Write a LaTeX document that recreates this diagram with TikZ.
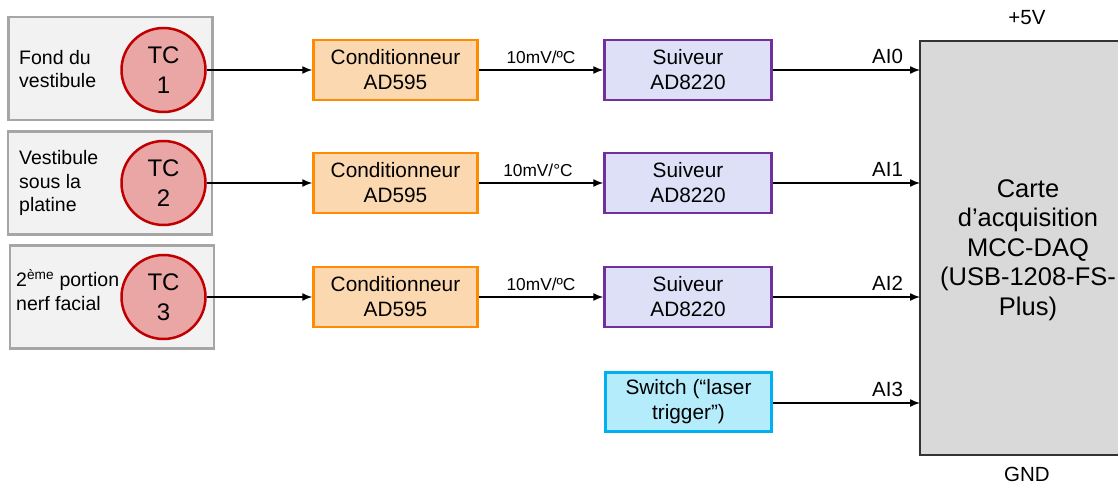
\documentclass[tikz,border=0pt]{standalone}
\usepackage{fontspec}
\setmainfont{Liberation Sans}
\usetikzlibrary{arrows.meta}
\definecolor{grayfill}{HTML}{F2F2F2}
\definecolor{grayedge}{HTML}{A6A6A6}
\definecolor{tcfill}{HTML}{EAA5A5}
\definecolor{tcedge}{HTML}{C00000}
\definecolor{orfill}{HTML}{FCD8B0}
\definecolor{oredge}{HTML}{FF8C00}
\definecolor{pufill}{HTML}{DDE0F6}
\definecolor{puedge}{HTML}{7030A0}
\definecolor{cyfill}{HTML}{B4ECFB}
\definecolor{cyedge}{HTML}{00B0F0}
\definecolor{daqfill}{HTML}{D9D9D9}
\definecolor{daqedge}{HTML}{333333}
\begin{document}
\begin{tikzpicture}[x=1pt,y=-1pt,
  lbox/.style={draw=grayedge,fill=grayfill,line width=2.5pt,minimum width=204pt,minimum height=103pt,inner sep=0pt},
  ltext/.style={align=left,anchor=west,font=\fontsize{19.5}{23.5}\selectfont,inner sep=0pt},
  tc/.style={circle,draw=tcedge,fill=tcfill,line width=2.5pt,minimum size=84pt,inner sep=0pt,align=center,font=\fontsize{24}{30}\selectfont},
  cond/.style={draw=oredge,fill=orfill,line width=2.5pt,minimum width=164pt,minimum height=60pt,inner sep=0pt,align=center,font=\fontsize{20.8}{25}\selectfont},
  suiv/.style={draw=puedge,fill=pufill,line width=2.5pt,minimum width=167pt,minimum height=60pt,inner sep=0pt,align=center,font=\fontsize{20.8}{25}\selectfont},
  sw/.style={draw=cyedge,fill=cyfill,line width=2.5pt,minimum width=166pt,minimum height=59pt,inner sep=0pt,align=center,font=\fontsize{20.8}{25}\selectfont},
  arr/.style={line width=1.4pt,-{Latex[length=10pt,width=8pt]}},
  small/.style={font=\fontsize{17.3}{20}\selectfont,inner sep=0pt},
  ai/.style={font=\fontsize{20.5}{22}\selectfont,inner sep=0pt}
]
\useasboundingbox (0,0) rectangle (1118,486);

% left boxes
\node[lbox] (b1) at (110.5,68.5) {};
\node[lbox] (b2) at (110,183) {};
\node[lbox] (b3) at (112,297) {};
\node[ltext] (t1) at (19,69) {Fond du\\vestibule};
\node[ltext] (t2) at (19,183) {Vestibule\\sous la\\platine};
\node[ltext] (t3) at (16,290) {2\textsuperscript{ème} portion\\nerf facial};

\node[tc] (tc1) at (163.5,70) {TC\\1};
\node[tc] (tc2) at (163.5,183) {TC\\2};
\node[tc] (tc3) at (163.5,297) {TC\\3};

% conditionneurs
\node[cond] (c1) at (395.5,70) {Conditionneur\\AD595};
\node[cond] (c2) at (395.5,183) {Conditionneur\\AD595};
\node[cond] (c3) at (395.5,297) {Conditionneur\\AD595};

% suiveurs
\node[suiv] (s1) at (688,70) {Suiveur\\AD8220};
\node[suiv] (s2) at (688,183) {Suiveur\\AD8220};
\node[suiv] (s3) at (688,297) {Suiveur\\AD8220};

\node[sw] (sw) at (688.5,402) {Switch (“laser\\trigger”)};

% DAQ
\node[draw=daqedge,fill=daqfill,line width=2.5pt,minimum width=210pt,minimum height=414pt,inner sep=0pt] (daq) at (1025,248) {};
\node[align=center,font=\fontsize{25.5}{29.5}\selectfont,inner sep=0pt] (daqt) at (1028,250) {Carte\\d’acquisition\\MCC-DAQ\\(USB-1208-FS-\\Plus)};
\node[ai] (v5) at (1027,18) {+5V};
\node[ai] (gnd) at (1027,474) {GND};

\coordinate (d0) at (920,70);
\coordinate (d1) at (920,183);
\coordinate (d2) at (920,297);
\coordinate (d3) at (920,403);

\draw[arr] (tc1) -- (c1);
\draw[arr] (tc2) -- (c2);
\draw[arr] (tc3) -- (c3);

\draw[arr] (c1) -- node[small,above=6pt] (m1) {10mV/ºC} (s1);
\draw[arr] (c2) -- node[small,above=6pt,xshift=-3pt] (m2) {10mV/°C} (s2);
\draw[arr] (c3) -- node[small,above=6pt] (m3) {10mV/ºC} (s3);

\draw[arr] (s1.east) -- node[ai,pos=0.78,above=6pt] (a0) {AI0} (d0);
\draw[arr] (s2.east) -- node[ai,pos=0.78,above=6pt] (a1) {AI1} (d1);
\draw[arr] (s3.east) -- node[ai,pos=0.78,above=6pt] (a2) {AI2} (d2);
\draw[arr] (sw.east |- d3) -- node[ai,pos=0.78,above=6pt] (a3) {AI3} (d3);
\end{tikzpicture}
\end{document}
